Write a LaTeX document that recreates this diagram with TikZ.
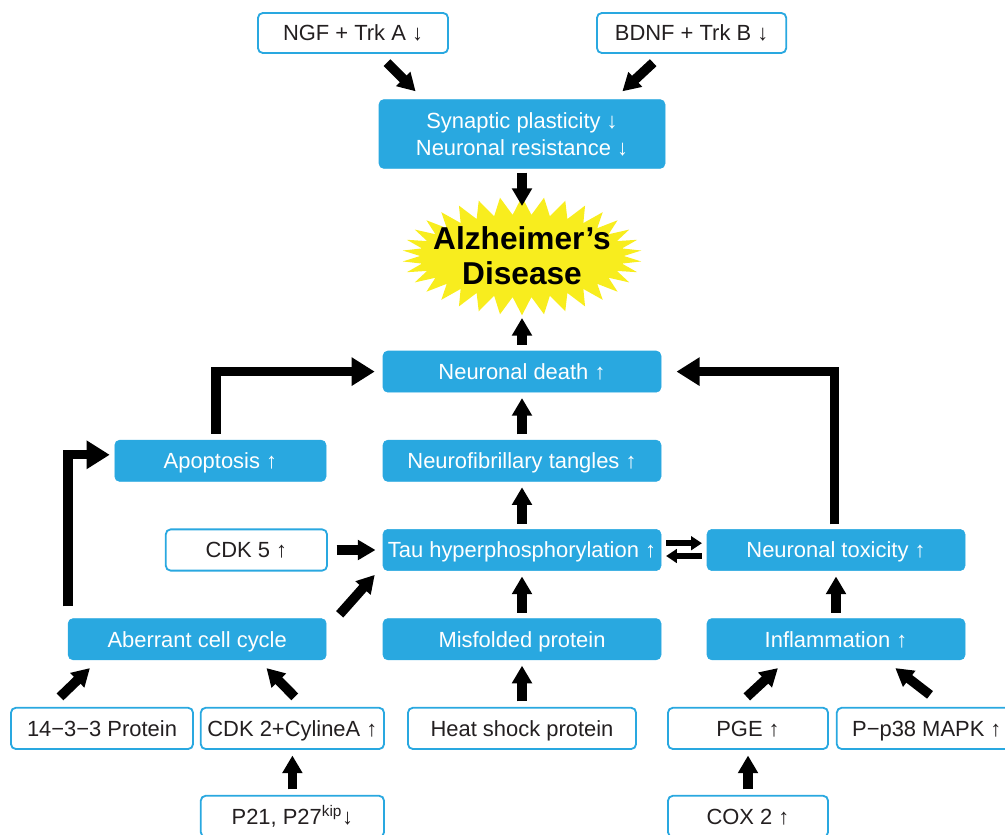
\documentclass[tikz,border=0pt]{standalone}
\usepackage{fontspec}
\setmainfont{Liberation Sans}
\usepackage{tikz}
\usetikzlibrary{shapes.symbols,arrows.meta}
\definecolor{adblue}{RGB}{41,168,224}
\definecolor{adyellow}{RGB}{248,237,30}
\definecolor{adtext}{RGB}{35,31,32}
\newcommand{\boxfont}{\fontsize{15.6}{19.2}\selectfont}
\newcommand{\adfont}{\fontsize{22.5}{25}\selectfont\bfseries}
\tikzstyle{panel} = [draw=adblue, fill=adblue, rectangle, rounded corners=0.12cm, text=white, font=\boxfont]
\tikzstyle{block} = [panel, minimum height=1.03cm, minimum width=6.95cm, text height=13.5pt, text depth=2.3pt]
\tikzstyle{factor} = [draw=adblue, fill=white, rectangle, rounded corners=0.12cm, line width=1.3pt, text=adtext, font=\boxfont, minimum height=1.03cm, text height=13.5pt, text depth=2.3pt]
\tikzstyle{disease} = [starburst, starburst points=34, starburst point height=0.45cm, random starburst=0, fill=adyellow, minimum width=5cm, minimum height=2.5cm, align=center, font=\adfont, inner xsep=-0.42cm, inner ysep=0pt]
\tikzstyle{arr} = [-{Triangle[length=0.44cm,width=0.48cm]}, line width=0.24cm]
\tikzstyle{link} = [arr, shorten >=0.14cm, shorten <=0.14cm]
\tikzstyle{bigarr} = [-{Triangle[length=0.58cm,width=0.68cm]}, line width=0.23cm]
\tikzstyle{twoway} = [-{Triangle[length=0.27cm,width=0.34cm]}, line width=0.15cm]

\begin{document}
\begin{tikzpicture}[auto, node distance=2.23cm]
    \useasboundingbox (0,0) rectangle (25.125,-20.85);
    \node [disease] (ad) at (13.05,-6.4) {Alzheimer’s\\Disease};
    \node [panel, above of=ad, node distance=3.05cm, minimum height=1.72cm, minimum width=7.15cm, align=center] (syn) {Synaptic plasticity ↓\\Neuronal resistance ↓};
    \node [factor, minimum width=4.75cm, minimum height=1cm] (ngf) at (8.825,-0.825) {NGF + Trk A ↓};
    \node [factor, minimum width=4.73cm, minimum height=1cm] (bdnf) at (17.29,-0.825) {BDNF + Trk B ↓};
    \node [block, below of=ad, node distance=2.89cm] (death) {Neuronal death ↑};
    \node [block, below of=death] (tangles) {Neurofibrillary tangles ↑};
    \node [block, below of=tangles] (tau) {Tau hyperphosphorylation ↑};
    \node [block, below of=tau] (misfold) {Misfolded protein};
    \node [factor, below of=misfold, minimum width=5.7cm] (heat) {Heat shock protein};
    \node [block, left of=tangles, node distance=7.54cm, minimum width=5.28cm] (apop) {Apoptosis ↑};
    \node [factor, left of=tau, node distance=6.89cm, minimum width=4.03cm] (cdk5) {CDK 5 ↑};
    \node [block, left of=misfold, node distance=8.12cm, minimum width=6.45cm] (cycle) {Aberrant cell cycle};
    \node [block, right of=tau, node distance=7.85cm, minimum width=6.45cm] (tox) {Neuronal toxicity ↑};
    \node [block, below of=tox, minimum width=6.45cm] (inflam) {Inflammation ↑};
    \node [factor, left of=heat, node distance=5.74cm, minimum width=4.58cm] (cdk2) {CDK 2+CylineA ↑};
    \node [factor, left of=cdk2, node distance=4.76cm, minimum width=4.55cm] (prot) {14−3−3 Protein};
    \node [factor, below of=cdk2, node distance=2.2cm, minimum width=4.58cm] (p21) {P21, P27\textsuperscript{kip}↓};
    \node [factor, right of=heat, node distance=5.65cm, minimum width=4cm] (pge) {PGE ↑};
    \node [factor, right of=pge, node distance=4.47cm, minimum width=4.5cm] (p38) {P−p38 MAPK ↑};
    \node [factor, below of=pge, node distance=2.2cm, minimum width=4cm] (cox) {COX 2 ↑};

    \draw [arr] ([xshift=0.85cm,yshift=-0.22cm]ngf.south) -- ([xshift=-2.66cm,yshift=0.2cm]syn.north);
    \draw [arr] ([xshift=-0.96cm,yshift=-0.22cm]bdnf.south) -- ([xshift=2.51cm,yshift=0.2cm]syn.north);
    \draw [arr] ([yshift=-0.1cm]syn.south) -- ([yshift=1.25cm]ad.center);
    \draw [arr] ([yshift=0.15cm]death.north) -- ([yshift=-1.55cm]ad.center);
    \draw [link] (tangles) -- (death);
    \draw [link] (tau) -- (tangles);
    \draw [link] (misfold) -- (tau);
    \draw [link] (heat) -- (misfold);
    \draw [link] (inflam) -- (tox);
    \draw [arr, shorten >=0.18cm, shorten <=0.22cm] (cdk5) -- (tau);
    \draw [arr] ([xshift=0.33cm,yshift=0.1cm]cycle.north east) -- ([xshift=-0.2cm,yshift=-0.1cm]tau.south west);
    \draw [twoway] ([xshift=0.12cm,yshift=0.17cm]tau.east) -- ([xshift=-0.12cm,yshift=0.17cm]tox.west);
    \draw [twoway] ([xshift=-0.12cm,yshift=-0.15cm]tox.west) -- ([xshift=0.12cm,yshift=-0.15cm]tau.east);
    \draw [bigarr] ([xshift=-0.11cm,yshift=0.15cm]apop.north) |- ([xshift=-0.2cm]death.west);
    \draw [bigarr] ([yshift=0.3cm]cycle.north west) |- ([xshift=-0.12cm,yshift=0.15cm]apop.west);
    \draw [bigarr] ([xshift=-0.04cm,yshift=0.12cm]tox.north) |- ([xshift=0.38cm]death.east);
    \draw [arr] ([xshift=-1.05cm,yshift=0.25cm]prot.north) -- ([xshift=0.55cm,yshift=-0.2cm]cycle.south west);
    \draw [arr] ([xshift=0.06cm,yshift=0.25cm]cdk2.north) -- ([xshift=-1.5cm,yshift=-0.2cm]cycle.south east);
    \draw [link] (p21) -- (cdk2);
    \draw [arr] ([xshift=-0.03cm,yshift=0.25cm]pge.north) -- ([xshift=1.78cm,yshift=-0.2cm]inflam.south west);
    \draw [arr] ([xshift=0.08cm,yshift=0.3cm]p38.north) -- ([xshift=-1.75cm,yshift=-0.2cm]inflam.south east);
    \draw [link] (cox) -- (pge);
\end{tikzpicture}
\end{document}
